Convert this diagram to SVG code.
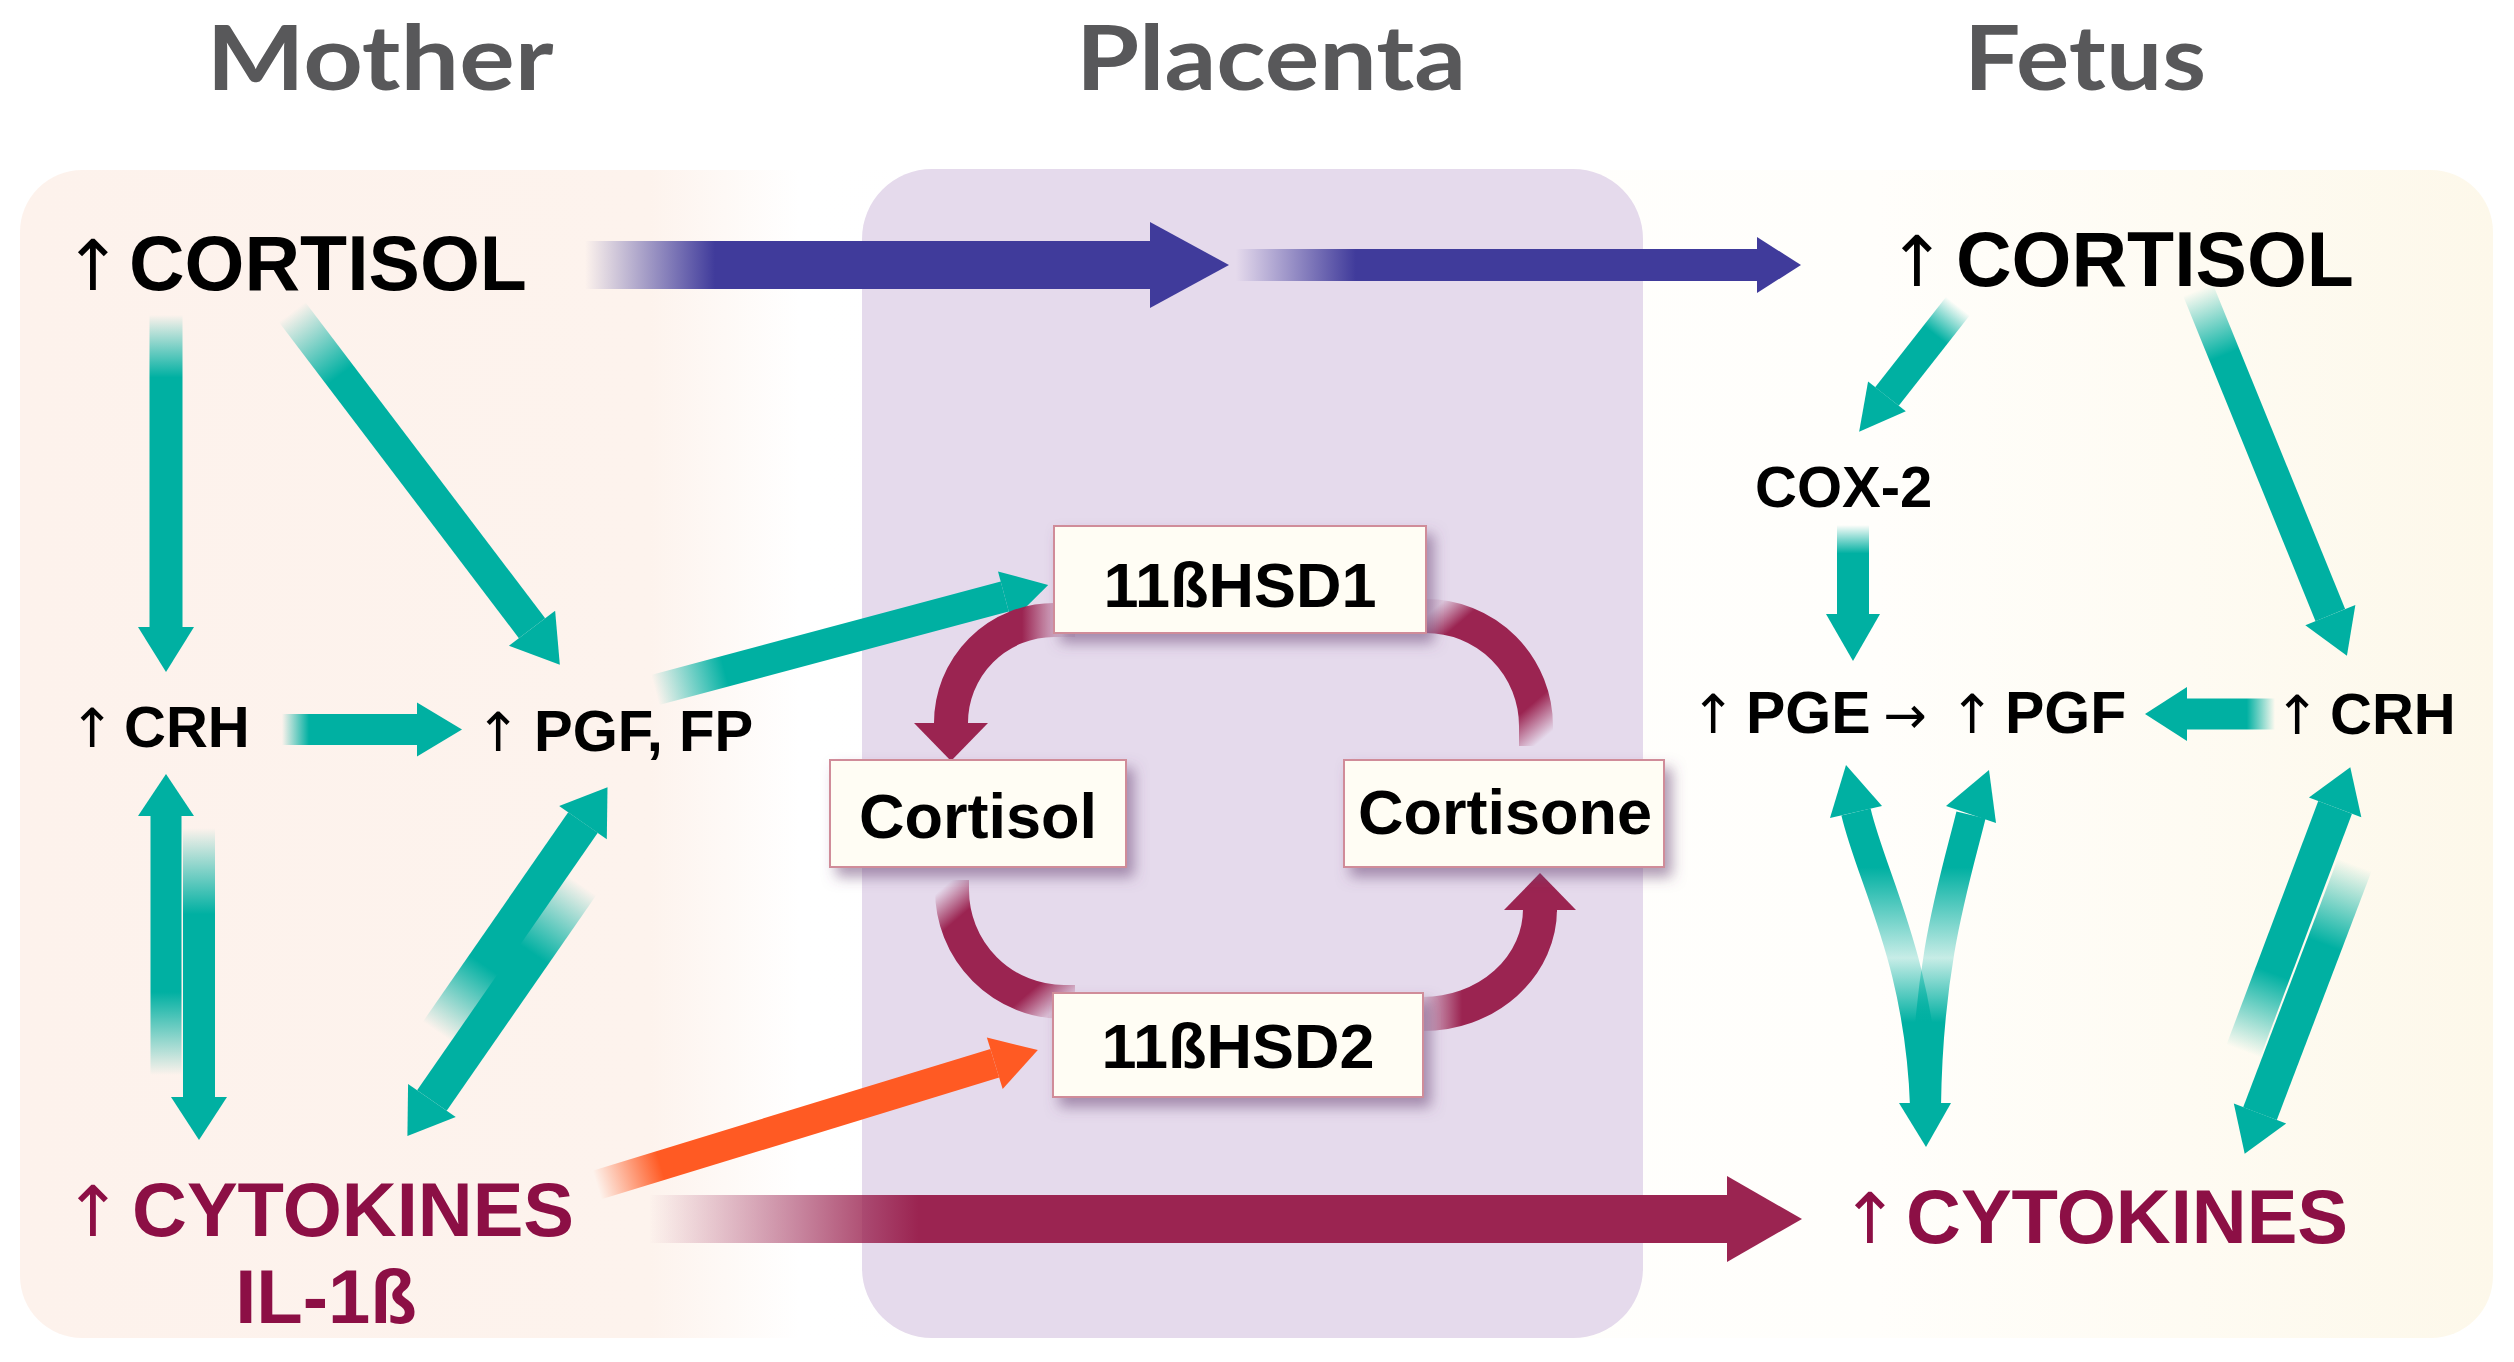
<svg xmlns="http://www.w3.org/2000/svg" width="2514" height="1362" viewBox="0 0 2514 1362">
<style>
.title{font-family:Lato,"Open Sans","Liberation Sans",sans-serif;font-weight:bold;fill:#58585a;font-size:90px;text-anchor:middle}
.t{font-family:"Liberation Sans",Arial,sans-serif;font-weight:bold;fill:#000}
.ar{font-family:"DejaVu Sans","Liberation Sans",sans-serif;font-weight:normal;fill:#000;text-anchor:middle}
.cyt{fill:#8c0f45}
.teal{fill:#00b0a2}
.box{fill:#fffdf4;stroke:#d08c99;stroke-width:2;filter:url(#sh)}
.mar{fill:#9b2451}
</style>
<defs>
<linearGradient id="bg" gradientUnits="userSpaceOnUse" x1="20" y1="0" x2="2493" y2="0">
<stop offset="0" stop-color="#fdf2ec"/><stop offset="0.255" stop-color="#fdf3ed"/><stop offset="0.315" stop-color="#ffffff"/><stop offset="0.75" stop-color="#fffefb"/><stop offset="1" stop-color="#fdf8ea"/>
</linearGradient>
<linearGradient id="tF" x1="0" y1="0" x2="1" y2="0"><stop offset="0" stop-color="#00b0a2" stop-opacity="0"/><stop offset="0.2" stop-color="#00b0a2"/><stop offset="1" stop-color="#00b0a2"/></linearGradient>
<linearGradient id="tF2" x1="0" y1="0" x2="1" y2="0"><stop offset="0" stop-color="#00b0a2" stop-opacity="0"/><stop offset="0.32" stop-color="#00b0a2"/><stop offset="1" stop-color="#00b0a2"/></linearGradient>
<linearGradient id="bF" x1="0" y1="0" x2="1" y2="0"><stop offset="0" stop-color="#403b9b" stop-opacity="0"/><stop offset="0.23" stop-color="#403b9b"/><stop offset="1" stop-color="#403b9b"/></linearGradient>
<linearGradient id="mF" x1="0" y1="0" x2="1" y2="0"><stop offset="0" stop-color="#9b2451" stop-opacity="0"/><stop offset="0.25" stop-color="#9b2451"/><stop offset="1" stop-color="#9b2451"/></linearGradient>
<linearGradient id="oF" x1="0" y1="0" x2="1" y2="0"><stop offset="0" stop-color="#ff5a23" stop-opacity="0"/><stop offset="0.16" stop-color="#ff5a23"/><stop offset="1" stop-color="#ff5a23"/></linearGradient>
<linearGradient id="vG" gradientUnits="userSpaceOnUse" x1="0" y1="812" x2="0" y2="1104"><stop offset="0" stop-color="#00b0a2"/><stop offset="0.19" stop-color="#00b0a2"/><stop offset="0.5" stop-color="#00b0a2" stop-opacity="0.22"/><stop offset="0.72" stop-color="#00b0a2"/><stop offset="1" stop-color="#00b0a2"/></linearGradient>
<linearGradient id="aTL" gradientUnits="userSpaceOnUse" x1="1062" y1="0" x2="1022" y2="0"><stop offset="0" stop-color="#9b2451" stop-opacity="0.1"/><stop offset="1" stop-color="#9b2451"/></linearGradient>
<linearGradient id="aTR" gradientUnits="userSpaceOnUse" x1="1426" y1="616" x2="1536" y2="745"><stop offset="0" stop-color="#9b2451" stop-opacity="0.1"/><stop offset="0.16" stop-color="#9b2451"/><stop offset="0.8" stop-color="#9b2451"/><stop offset="1" stop-color="#9b2451" stop-opacity="0"/></linearGradient>
<linearGradient id="aBL" gradientUnits="userSpaceOnUse" x1="952" y1="880" x2="1060" y2="1005"><stop offset="0" stop-color="#9b2451" stop-opacity="0"/><stop offset="0.2" stop-color="#9b2451"/><stop offset="0.82" stop-color="#9b2451"/><stop offset="1" stop-color="#9b2451" stop-opacity="0.15"/></linearGradient>
<linearGradient id="aBR" gradientUnits="userSpaceOnUse" x1="1422" y1="0" x2="1462" y2="0"><stop offset="0" stop-color="#9b2451" stop-opacity="0.1"/><stop offset="1" stop-color="#9b2451"/></linearGradient>
<filter id="sh" x="-20%" y="-30%" width="150%" height="180%"><feDropShadow dx="7" dy="9" stdDeviation="7" flood-color="#6d4a78" flood-opacity="0.55"/></filter>
</defs>

<g id="panels">
<rect id="mother-fetus-panel" x="20" y="170" width="2473" height="1168" rx="62" fill="url(#bg)"/>
<rect id="placenta-panel" x="862" y="169" width="781" height="1169" rx="70" fill="#e5daec"/>
</g>

<g id="titles">
<text class="title" x="380" y="90" textLength="347" lengthAdjust="spacingAndGlyphs">Mother</text>
<text class="title" x="1271" y="90" textLength="390" lengthAdjust="spacingAndGlyphs">Placenta</text>
<text class="title" x="2085" y="90" textLength="242" lengthAdjust="spacingAndGlyphs">Fetus</text>
</g>

<g id="connectors">
<!-- blue cortisol transfer -->
<g transform="translate(585,265)"><rect x="0" y="-24" width="565" height="48" fill="url(#bF)"/><polygon points="565,-43 644,0 565,43" fill="#403b9b"/></g>
<g transform="translate(1236,265)"><rect x="0" y="-16" width="521" height="32" fill="url(#bF)"/><polygon points="521,-28 565,0 521,28" fill="#403b9b"/></g>
<!-- maroon cytokine transfer -->
<g transform="translate(649,1219)"><rect x="0" y="-24" width="1078" height="48" fill="url(#mF)"/><polygon points="1078,-43 1153,0 1078,43" class="mar"/></g>
<!-- orange cytokines -> 11bHSD2 -->
<g transform="translate(597,1185) rotate(-17.02)"><rect x="0" y="-15" width="416" height="30" fill="url(#oF)"/><polygon points="416,-27 461,0 416,27" fill="#ff5a23"/></g>

<!-- mother teal arrows -->
<g transform="translate(166,315) rotate(90)"><rect x="0" y="-16.5" width="312" height="33" fill="url(#tF)"/><polygon points="312,-28 357,0 312,28" class="teal"/></g>
<g transform="translate(292,312) rotate(52.8)"><rect x="0" y="-16.5" width="397" height="33" fill="url(#tF)"/><polygon points="397,-29 443,0 397,29" class="teal"/></g>
<g transform="translate(282,729.5)"><rect x="0" y="-15.5" width="135" height="31" fill="url(#tF)"/><polygon points="135,-27 180,0 135,27" class="teal"/></g>
<g transform="translate(655,690) rotate(-14.96)"><rect x="0" y="-15.5" width="362" height="31" fill="url(#tF)"/><polygon points="362,-26 407,0 362,26" class="teal"/></g>
<g transform="translate(166,1075) rotate(-90)"><rect x="0" y="-15.5" width="259" height="31" fill="url(#tF2)"/><polygon points="259,-28 301,0 259,28" class="teal"/></g>
<g transform="translate(199,828) rotate(90)"><rect x="0" y="-16" width="269" height="32" fill="url(#tF2)"/><polygon points="269,-28 312,0 269,28" class="teal"/></g>
<g transform="translate(437.6,1032.1) rotate(-55.24)"><rect x="0" y="-18" width="255" height="36" fill="url(#tF2)"/><polygon points="255,-29 298,0 255,29" class="teal"/></g>
<g transform="translate(581.4,884.9) rotate(124.73)"><rect x="0" y="-18" width="262.4" height="36" fill="url(#tF2)"/><polygon points="262.4,-29 305.4,0 262.4,29" class="teal"/></g>

<!-- fetus teal arrows -->
<g transform="translate(1958,306) rotate(128.16)"><rect x="0" y="-15" width="115" height="30" fill="url(#tF2)"/><polygon points="115,-24 160,0 115,24" class="teal"/></g>
<g transform="translate(1853,525) rotate(90)"><rect x="0" y="-16" width="89" height="32" fill="url(#tF2)"/><polygon points="89,-27 136,0 89,27" class="teal"/></g>
<g transform="translate(2198,290) rotate(67.85)"><rect x="0" y="-16" width="351" height="32" fill="url(#tF)"/><polygon points="351,-27 395,0 351,27" class="teal"/></g>
<g transform="translate(2275,714) rotate(180)"><rect x="0" y="-15.5" width="88" height="31" fill="url(#tF2)"/><polygon points="88,-27 130,0 88,27" class="teal"/></g>
<g transform="translate(2243.3,1051.2) rotate(-69.36)"><rect x="0" y="-18" width="260.5" height="36" fill="url(#tF2)"/><polygon points="260.5,-28 303.5,0 260.5,28" class="teal"/></g>
<g transform="translate(2354.7,864.8) rotate(110.84)"><rect x="0" y="-18" width="266.2" height="36" fill="url(#tF2)"/><polygon points="266.2,-28 309.2,0 266.2,28" class="teal"/></g>
<!-- fetus V arrows -->
<path d="M1856,812 C1872,880 1920,960 1925,1106" fill="none" stroke="url(#vG)" stroke-width="30"/>
<path d="M1971,815 C1955,880 1928,960 1926,1106" fill="none" stroke="url(#vG)" stroke-width="30"/>
<polygon points="1846,765 1882,806 1830,818" class="teal"/>
<polygon points="1989,770 1996,823 1946,806" class="teal"/>
<polygon points="1899,1103 1951,1103 1926,1147" class="teal"/>

<!-- placenta cycle -->
<path d="M1075,620 L1054,620 A103,103 0 0 0 951,723 L951,726" fill="none" stroke="url(#aTL)" stroke-width="34"/>
<polygon points="914,723 988,723 951,761" class="mar"/>
<path d="M1415,616 L1426,616 A110,110 0 0 1 1536,726 L1536,746" fill="none" stroke="url(#aTR)" stroke-width="34"/>
<path d="M952,880 L952,890 A112,112 0 0 0 1064,1002 L1075,1002" fill="none" stroke="url(#aBL)" stroke-width="34"/>
<path d="M1410,1014 L1423,1014 A117,105 0 0 0 1540,909 L1540,912" fill="none" stroke="url(#aBR)" stroke-width="34"/>
<polygon points="1504,910 1576,910 1540,873" class="mar"/>
</g>

<g id="node-mother-cortisol"><text class="ar" x="93" y="290" font-size="70">↑</text><text class="t" x="129" y="290" font-size="77">CORTISOL</text></g>
<g id="node-mother-crh"><text class="ar" x="92" y="747" font-size="54">↑</text><text class="t" x="124" y="747" font-size="58">CRH</text></g>
<g id="node-mother-pgf"><text class="ar" x="498" y="751" font-size="54">↑</text><text class="t" x="534" y="751" font-size="58">PGF, FP</text></g>
<g id="node-mother-cytokines"><text class="ar cyt" x="93" y="1236" font-size="70">↑</text><text class="t cyt" font-size="76"><tspan x="132" y="1236">CYTOKINES</tspan><tspan x="326" y="1323" text-anchor="middle">IL-1ß</tspan></text></g>

<g id="node-11bhsd1"><rect class="box" x="1054" y="526" width="372" height="107"/><text class="t" x="1240" y="607" font-size="63" text-anchor="middle">11ßHSD1</text></g>
<g id="node-cortisol"><rect class="box" x="830" y="760" width="296" height="107"/><text class="t" x="978" y="838" font-size="63" text-anchor="middle">Cortisol</text></g>
<g id="node-cortisone"><rect class="box" x="1344" y="760" width="320" height="107"/><text class="t" x="1505" y="834" font-size="63" text-anchor="middle">Cortisone</text></g>
<g id="node-11bhsd2"><rect class="box" x="1053" y="993" width="370" height="104"/><text class="t" x="1238" y="1068" font-size="63" text-anchor="middle">11ßHSD2</text></g>

<g id="node-fetus-cortisol"><text class="ar" x="1917" y="286" font-size="70">↑</text><text class="t" x="1956" y="286" font-size="77">CORTISOL</text></g>
<g id="node-cox2"><text class="t" x="1755" y="507" font-size="58">COX-2</text></g>
<g id="node-pge"><text class="ar" x="1713" y="733" font-size="54">↑</text><text class="t" x="1746" y="733" font-size="59">PGE</text><text class="ar" x="1905" y="733" font-size="52">→</text></g>
<g id="node-pgf"><text class="ar" x="1972" y="733" font-size="54">↑</text><text class="t" x="2005" y="733" font-size="59">PGF</text></g>
<g id="node-fetus-crh"><text class="ar" x="2297" y="734" font-size="54">↑</text><text class="t" x="2330" y="734" font-size="58">CRH</text></g>
<g id="node-fetus-cytokines"><text class="ar cyt" x="1870" y="1243" font-size="70">↑</text><text class="t cyt" x="1906" y="1243" font-size="76">CYTOKINES</text></g>
</svg>
